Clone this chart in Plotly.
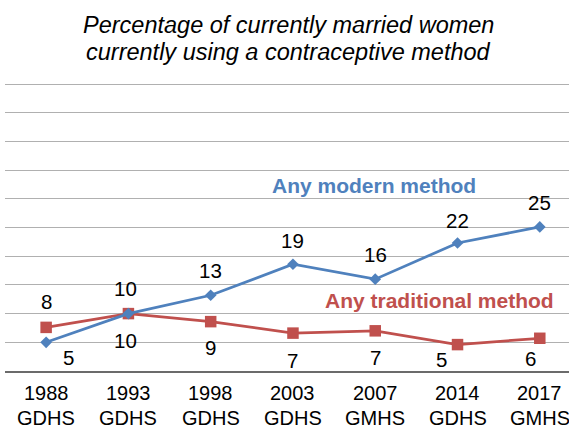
import plotly.graph_objects as go

years = ["1988", "1993", "1998", "2003", "2007", "2014", "2017"]
surveys = ["GDHS", "GDHS", "GDHS", "GDHS", "GMHS", "GDHS", "GMHS"]
categories = [f"{y} {s}" for y, s in zip(years, surveys)]
modern = [5.0, 10.0, 13.2, 18.6, 16.0, 22.3, 25.1]
traditional = [7.6, 10.0, 8.6, 6.6, 7.0, 4.6, 5.7]

# label offsets in pixels (dx right, dy down) relative to each point
mod_dx = [22, -3, 0, 0, 0, 0, 0]
mod_dy = [15, -25, -25, -24, -25, -23, -24]
trad_dx = [0, -3, 0, 0, 0, -16, -9]
trad_dy = [-26, 27, 26, 27, 27, 15, 20]

BLUE = "#4F81BD"
RED = "#C0504D"
FONT = "Liberation Sans, Arial, sans-serif"

PLOT_TOP = 82
PLOT_H = 289


def paper_y(ypix):
    return 1 - (ypix - PLOT_TOP) / PLOT_H


fig = go.Figure()
fig.add_trace(go.Scatter(
    x=categories, y=traditional, mode="lines+markers",
    line=dict(color=RED, width=2.75),
    marker=dict(symbol="square", size=11.5, color=RED),
    name="Any traditional method", cliponaxis=False,
))
fig.add_trace(go.Scatter(
    x=categories, y=modern, mode="lines+markers",
    line=dict(color=BLUE, width=2.75),
    marker=dict(symbol="diamond", size=9, color=BLUE),
    name="Any modern method", cliponaxis=False,
))

for series, dxs, dys in ((modern, mod_dx, mod_dy), (traditional, trad_dx, trad_dy)):
    for c, v, dx, dy in zip(categories, series, dxs, dys):
        fig.add_annotation(x=c, y=v, xref="x", yref="y", text=f"{v:.0f}",
                           showarrow=False, xshift=dx, yshift=-dy,
                           xanchor="center", yanchor="middle",
                           font=dict(size=20.5, color="black", family=FONT))

# two-line category labels under the axis
for c, yr, sv in zip(categories, years, surveys):
    fig.add_annotation(x=c, y=paper_y(393), xref="x", yref="paper", text=yr,
                       showarrow=False, xanchor="center", yanchor="middle", borderpad=0,
                       font=dict(size=20, color="black", family=FONT))
    fig.add_annotation(x=c, y=paper_y(430), xref="x", yref="paper", text=sv,
                       showarrow=False, xanchor="center", yanchor="bottom", borderpad=0,
                       font=dict(size=20, color="black", family=FONT))

fig.add_annotation(x=3.99, y=32.4, xref="x", yref="y", text="<b>Any modern method</b>",
                   showarrow=False, font=dict(size=21, color=BLUE, family=FONT))
fig.add_annotation(x=4.787, y=12.2, xref="x", yref="y", text="<b>Any traditional method</b>",
                   showarrow=False, font=dict(size=21, color=RED, family=FONT))

title_lines = ["Percentage of currently married women",
               "currently using a contraceptive method"]
for line, yc in zip(title_lines, (25, 51.5)):
    fig.add_annotation(x=(288.5 - 5) / 564, y=paper_y(yc),
                       xref="paper", yref="paper",
                       text=f"<i>{line}</i>", showarrow=False,
                       xanchor="center", yanchor="middle",
                       font=dict(size=23.5, color="black", family=FONT))

fig.update_layout(
    width=569, height=430,
    margin=dict(l=5, r=0, t=PLOT_TOP, b=430 - PLOT_TOP - PLOT_H),
    paper_bgcolor="white", plot_bgcolor="white",
    showlegend=False,
    font=dict(family=FONT, color="black"),
)
fig.update_xaxes(range=[-0.5, 6.355], showgrid=False, showline=True,
                 linecolor="#6B6B6B", linewidth=1.5, ticks="",
                 showticklabels=False, automargin=False)
fig.update_yaxes(range=[0, 50.35], dtick=5, showgrid=True, gridcolor="#B0B0B0",
                 gridwidth=1, showticklabels=False, zeroline=False, showline=False,
                 automargin=False)

fig.write_html("out.html", config={"displayModeBar": False},
               post_script="document.body.style.margin='0';")
